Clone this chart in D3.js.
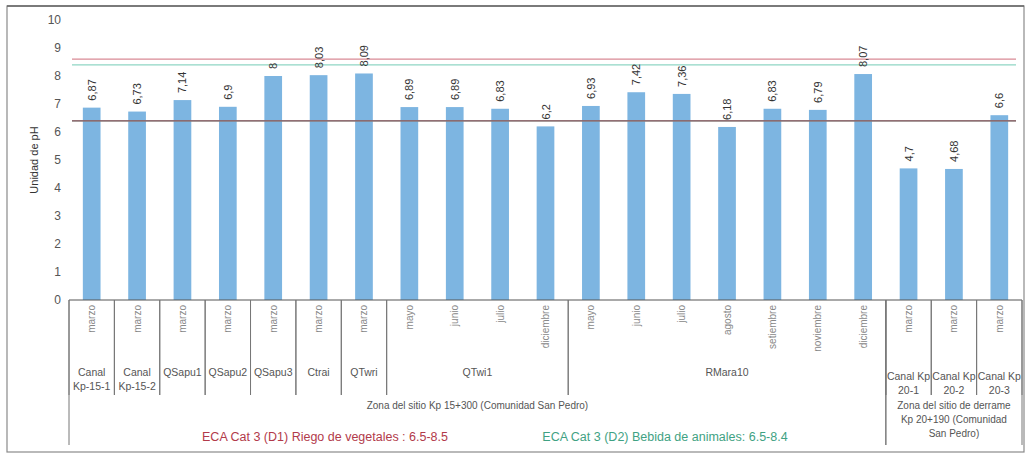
<!DOCTYPE html>
<html><head><meta charset="utf-8">
<script src="https://cdn.jsdelivr.net/npm/d3@7"></script>
<style>body{margin:0;background:#fff;font-family:"Liberation Sans",Arial,sans-serif}</style>
</head><body><svg id="c" width="1027" height="454"></svg>
<script>
const months = ["marzo","marzo","marzo","marzo","marzo","marzo","marzo","mayo","junio","julio","diciembre","mayo","junio","julio","agosto","setiembre","noviembre","diciembre","marzo","marzo","marzo"];
const values = [6.87,6.73,7.14,6.9,8,8.03,8.09,6.89,6.89,6.83,6.2,6.93,7.42,7.36,6.18,6.83,6.79,8.07,4.7,4.68,6.6];
const valueLabels = ["6,87","6,73","7,14","6,9","8","8,03","8,09","6,89","6,89","6,83","6,2","6,93","7,42","7,36","6,18","6,83","6,79","8,07","4,7","4,68","6,6"];
const sites = [
  {name:["Canal","Kp-15-1"], from:0, to:0},
  {name:["Canal","Kp-15-2"], from:1, to:1},
  {name:["QSapu1"], from:2, to:2},
  {name:["QSapu2"], from:3, to:3},
  {name:["QSapu3"], from:4, to:4},
  {name:["Ctrai"], from:5, to:5},
  {name:["QTwri"], from:6, to:6},
  {name:["QTwi1"], from:7, to:10},
  {name:["RMara10"], from:11, to:17},
  {name:["Canal Kp","20-1"], from:18, to:18},
  {name:["Canal Kp","20-2"], from:19, to:19},
  {name:["Canal Kp","20-3"], from:20, to:20}
];
const zones = [
  {name:["Zona del sitio Kp 15+300  (Comunidad San Pedro)"], from:0, to:17},
  {name:["Zona del sitio de derrame","Kp 20+190 (Comunidad","San Pedro)"], from:18, to:20}
];
const yTicks = [0,1,2,3,4,5,6,7,8,9,10];
const limitD1 = [6.4, 8.6];
const limitD2 = [6.4, 8.4];
const legendTexts = ["ECA Cat 3 (D1) Riego de vegetales : 6.5-8.5","ECA Cat 3 (D2) Bebida de animales: 6.5-8.4"];

const svg = d3.select("#c");
const idx = d3.range(values.length);
const x = d3.scaleBand().domain(idx).range([69,1022]).paddingInner(0.61).paddingOuter(0.305);
const step = x.step();
const left = 69, right = 1022;
const bx = i => left + i*step;  // boundary
const y = d3.scaleLinear().domain([0,10]).range([300,20]);

// frame
svg.append("rect").attr("x",7).attr("y",6).attr("width",1017).attr("height",446)
  .attr("fill","none").attr("stroke","#8a8a8a").attr("stroke-width",1.2);
svg.append("line").attr("x1",7).attr("x2",1024).attr("y1",6).attr("y2",6).attr("stroke","#666").attr("stroke-width",1.5);

// y axis
const ya = svg.append("g").attr("transform","translate(61,0)")
  .call(d3.axisLeft(y).tickValues(yTicks).tickSize(0).tickPadding(0));
ya.select(".domain").remove();
ya.selectAll("text").attr("font-size",12).attr("fill","#555").attr("font-family","Liberation Sans, Arial");

svg.append("text").attr("transform","translate(38,160) rotate(-90)").attr("text-anchor","middle")
  .attr("font-size",11).attr("fill","#333").text("Unidad de pH");

// bars
svg.selectAll("rect.bar").data(idx).join("rect").attr("class","bar")
  .attr("x",i=>x(i)).attr("width",x.bandwidth())
  .attr("y",i=>y(values[i])).attr("height",i=>y(0)-y(values[i]))
  .attr("fill","#7db5e1");

// limit lines
function hline(v,color,w){ svg.append("line").attr("x1",72).attr("x2",1016).attr("y1",y(v)).attr("y2",y(v)).attr("stroke",color).attr("stroke-width",w); }
limitD2.forEach(v=>hline(v,"#8fd6c4",1.3));
limitD1.forEach((v,k)=>hline(v,k===0?"#8a4a55":"#d98a95",1.3));

// value labels
svg.selectAll("text.val").data(idx).join("text").attr("class","val")
  .attr("transform",i=>`translate(${x(i)+x.bandwidth()/2+4},${y(values[i])-7}) rotate(-90)`)
  .attr("font-size",11).attr("fill","#333").text(i=>valueLabels[i]);

// axis baseline
svg.append("line").attr("x1",left).attr("x2",right).attr("y1",y(0)).attr("y2",y(0)).attr("stroke","#555").attr("stroke-width",1);

// month labels
svg.selectAll("text.mon").data(idx).join("text").attr("class","mon")
  .attr("transform",i=>`translate(${x(i)+x.bandwidth()/2+3.5},${305}) rotate(-90)`)
  .attr("text-anchor","end").attr("font-size",10).attr("fill","#888").text(i=>months[i]);

// site separators & labels
const sepBottom = 395;
sites.forEach(s=>{
  [s.from, s.to+1].forEach(b=>{
    svg.append("line").attr("x1",bx(b)).attr("x2",bx(b)).attr("y1",300).attr("y2",sepBottom).attr("stroke","#777").attr("stroke-width",1);
  });
  const cx = (bx(s.from)+bx(s.to+1))/2;
  const t = svg.append("text").attr("text-anchor","middle").attr("font-size",10.5).attr("fill","#555");
  const y0 = s.from>=18 ? 380 : 376;
  s.name.forEach((ln,k)=>t.append("tspan").attr("x",cx).attr("y",y0+k*14).text(ln));
});

// zone separators & labels
zones.forEach(z=>{
  [z.from, z.to+1].forEach(b=>{
    svg.append("line").attr("x1",bx(b)).attr("x2",bx(b)).attr("y1",300).attr("y2",445).attr("stroke","#777").attr("stroke-width",1);
  });
  const cx = (bx(z.from)+bx(z.to+1))/2;
  const t = svg.append("text").attr("text-anchor","middle").attr("font-size",10).attr("fill","#555");
  z.name.forEach((ln,k)=>t.append("tspan").attr("x",cx).attr("y",409+k*14).text(ln));
});

// legend
svg.append("text").attr("x",325).attr("y",441).attr("text-anchor","middle").attr("font-size",12.5).attr("fill","#b23a4a").text(legendTexts[0]);
svg.append("text").attr("x",665).attr("y",441).attr("text-anchor","middle").attr("font-size",12.5).attr("fill","#3fa283").text(legendTexts[1]);
</script></body></html>
